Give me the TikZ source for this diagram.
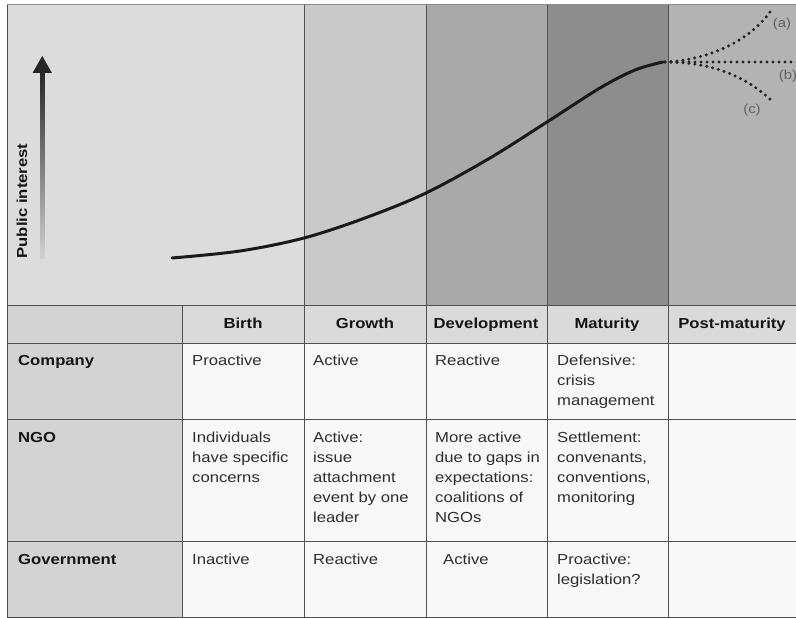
\documentclass[tikz,border=0pt]{standalone}
\usepackage{fontspec}
\setmainfont{Liberation Sans}[FakeStretch=1.15]
\definecolor{cLeft}{HTML}{DCDCDC}
\definecolor{cGrow}{HTML}{C9C9C9}
\definecolor{cDev}{HTML}{A9A9A9}
\definecolor{cMat}{HTML}{8D8D8D}
\definecolor{cPost}{HTML}{B3B3B3}
\definecolor{cLab}{HTML}{D3D3D3}
\definecolor{cHead}{HTML}{DADADA}
\definecolor{cCell}{HTML}{F8F8F8}
\definecolor{cGrid}{HTML}{505050}
\definecolor{cTxt}{HTML}{2E2E2E}
\definecolor{cBold}{HTML}{151515}
\newcommand{\celltext}[1]{\parbox[t]{118pt}{\fontsize{14.5}{20}\selectfont\raggedright #1}}
\begin{document}
\begin{tikzpicture}[x=1pt,y=-1pt,
  grid/.style={draw=cGrid,line width=1pt},
  headlab/.style={font=\fontsize{14.5}{20}\selectfont\bfseries,text=cBold,inner sep=0pt,anchor=base},
  rowlab/.style={font=\fontsize{14.5}{20}\selectfont\bfseries,text=cBold,inner sep=0pt,anchor=base west},
  celltxt/.style={text=cTxt,inner sep=0pt,anchor=base west},
  curve/.style={line width=3pt,black!90,line cap=round},
  dotline/.style={line width=3.4pt,black!85,line cap=round,dash pattern=on 0pt off 6pt},
  branchlab/.style={font=\fontsize{13}{15}\selectfont,text=black!62,inner sep=0pt}]
\useasboundingbox (0,0) rectangle (796,618);
\fill[white] (0,0) rectangle (796,618);
% chart backgrounds
\fill[cLeft] (7,5) rectangle (304,305);
\fill[cGrow] (304,5) rectangle (426,305);
\fill[cDev] (426,5) rectangle (547,305);
\fill[cMat] (547,5) rectangle (668,305);
\fill[cPost] (668,5) rectangle (796,305);
% table backgrounds
\fill[cLab] (7,305) rectangle (182,618);
\fill[cHead] (182,305) rectangle (796,343);
\fill[cCell] (182,343) rectangle (796,618);
% grid
\draw[grid,draw=black!45] (7,5) -- (796,5);
\draw[grid] (7,5) -- (7,618);
\draw[grid] (7,305) -- (796,305);
\draw[grid] (7,343) -- (796,343);
\draw[grid] (7,419) -- (796,419);
\draw[grid] (7,541) -- (796,541);
\draw[grid] (7,617) -- (796,617);
\draw[grid] (182,305) -- (182,618);
\draw[grid] (304,5) -- (304,618);
\draw[grid] (426,5) -- (426,618);
\draw[grid] (547,5) -- (547,618);
\draw[grid] (668,5) -- (668,618);
% public interest arrow
\shade[bottom color=black!18, top color=black!85] (40,258) rectangle (44.5,70);
\fill[black!85] (32.5,73) -- (42.25,56) -- (52,73) -- cycle;
\node[font=\fontsize{14.5}{20}\selectfont\bfseries,text=cBold,rotate=90,inner sep=0pt] (pi) at (22,201) {Public interest};
% curve
\draw[curve] plot[smooth,tension=0.55] coordinates {(172,258) (240,251) (304,238) (365,218) (426,193) (490,158) (547,122) (600,88) (635,70) (663,62)};
% branches
\coordinate (bstart) at (665,62);
\coordinate (aend) at (770,12);
\coordinate (bend) at (798,62);
\coordinate (cend) at (773,102);
\draw[dotline] (bstart) .. controls (710,60) and (750,40) .. (aend);
\draw[dotline] (bstart) -- (bend);
\draw[dotline] (bstart) .. controls (710,62) and (745,75) .. (cend);
\node[branchlab] (la) at (782,24) {(a)};
\node[branchlab] (lb) at (788,76) {(b)};
\node[branchlab] (lc) at (752,110) {(c)};
% header
\node[headlab] (hbirth) at (243,328) {Birth};
\node[headlab] (hgrowth) at (365,328) {Growth};
\node[headlab] (hdev) at (486,328) {Development};
\node[headlab] (hmat) at (607,328) {Maturity};
\node[headlab] (hpost) at (732,328) {Post-maturity};
% row labels
\node[rowlab] (rcomp) at (18,365) {Company};
\node[rowlab] (rngo) at (18,442) {NGO};
\node[rowlab] (rgov) at (18,564) {Government};
% company row
\node[celltxt] (c1) at (192,365) {\celltext{Proactive}};
\node[celltxt] (c2) at (313,365) {\celltext{Active}};
\node[celltxt] (c3) at (435,365) {\celltext{Reactive}};
\node[celltxt] (c4) at (557,365) {\celltext{Defensive:\\crisis\\management}};
% ngo row
\node[celltxt] (n1) at (192,442) {\celltext{Individuals\\have specific\\concerns}};
\node[celltxt] (n2) at (313,442) {\celltext{Active:\\issue\\attachment\\event by one\\leader}};
\node[celltxt] (n3) at (435,442) {\celltext{More active\\due to gaps in\\expectations:\\coalitions of\\NGOs}};
\node[celltxt] (n4) at (557,442) {\celltext{Settlement:\\convenants,\\conventions,\\monitoring}};
% government row
\node[celltxt] (g1) at (192,564) {\celltext{Inactive}};
\node[celltxt] (g2) at (313,564) {\celltext{Reactive}};
\node[celltxt] (g3) at (443,564) {\celltext{Active}};
\node[celltxt] (g4) at (557,564) {\celltext{Proactive:\\legislation?}};
\end{tikzpicture}
\end{document}
